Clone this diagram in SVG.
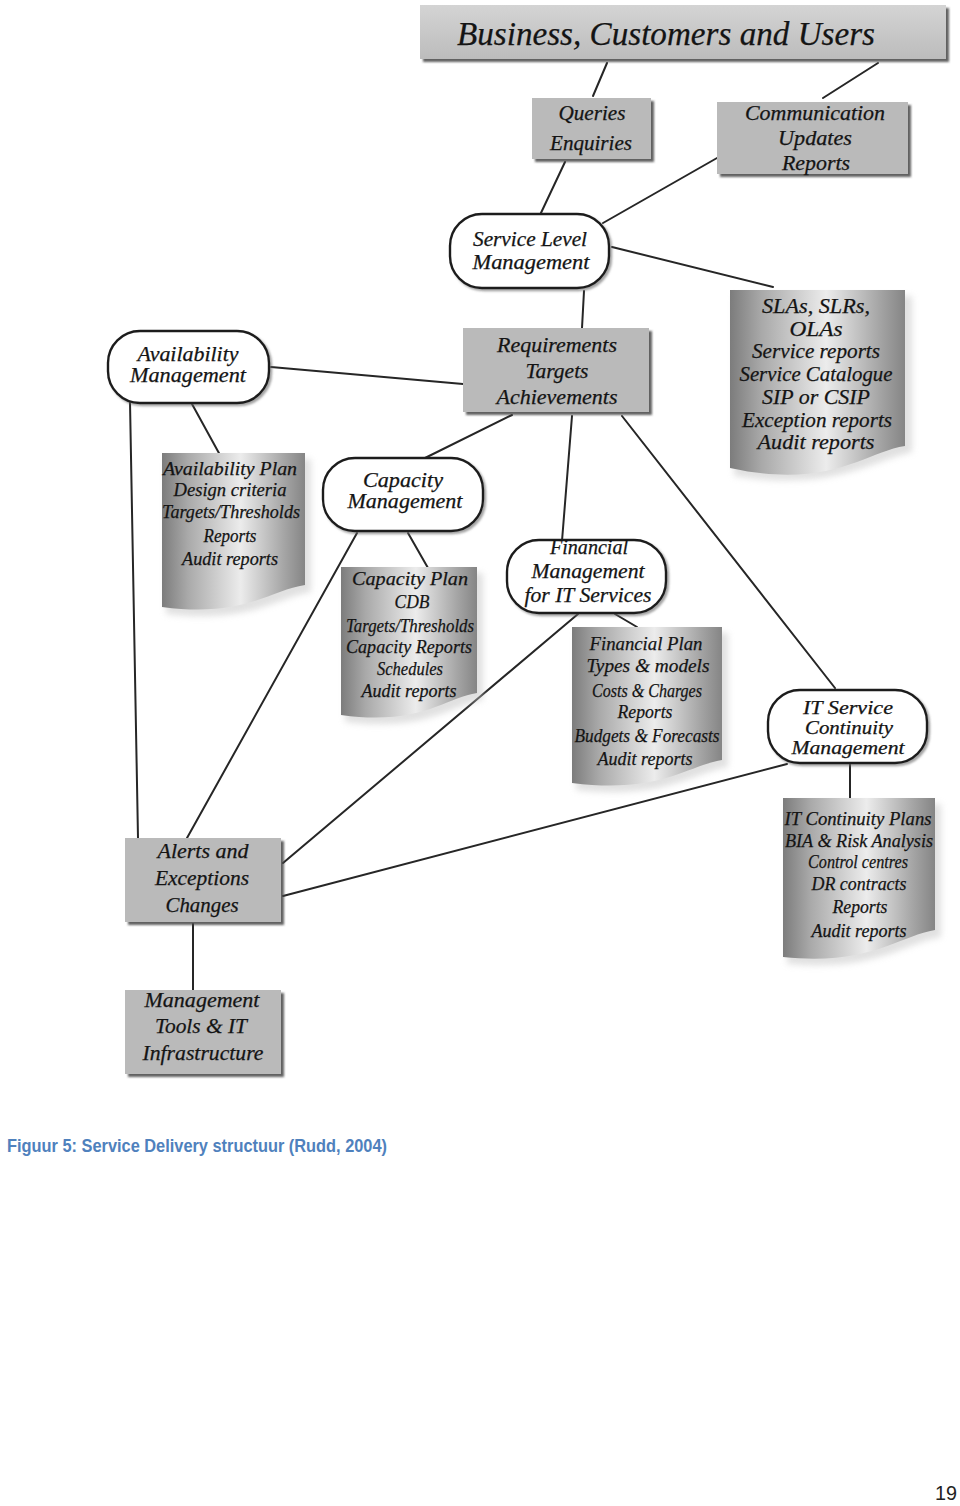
<svg xmlns="http://www.w3.org/2000/svg" width="960" height="1506" viewBox="0 0 960 1506">
<style>
.ln{stroke:#262626;stroke-width:2;fill:none;stroke-linecap:round}
.box{fill:#bababa}
.stad{fill:#fff;stroke:#1e1e1e;stroke-width:2.4}
.doc{fill:url(#docg)}
.docsh{fill:#c8c8c8;opacity:.55}
.t{font-family:"Liberation Serif","Times New Roman",serif;font-style:italic;fill:#141414;text-anchor:middle;stroke:#141414;stroke-width:0.25}
.t18{font-size:18px}
.t20{font-size:20px}
.t21{font-size:21px}
.t19{font-size:19px}
.t22{font-size:22px}
.cap{font-family:"Liberation Sans",Arial,sans-serif;font-weight:bold;font-size:18px;fill:#4F81BD}
.pg{font-family:"Liberation Sans",Arial,sans-serif;font-size:20px;fill:#222}
</style>
<defs>
<linearGradient id="docg" x1="0" y1="0" x2="1" y2="0">
<stop offset="0" stop-color="#7c7c7c"/>
<stop offset="0.18" stop-color="#a9a9a9"/>
<stop offset="0.55" stop-color="#ececec"/>
<stop offset="0.85" stop-color="#a6a6a6"/>
<stop offset="1" stop-color="#858585"/>
</linearGradient>
<linearGradient id="hdrg" x1="0" y1="0" x2="0" y2="1">
<stop offset="0" stop-color="#d4d4d4"/>
<stop offset="1" stop-color="#bcbcbc"/>
</linearGradient>
<filter id="sh" x="-10%" y="-10%" width="130%" height="140%">
<feDropShadow dx="3" dy="3" stdDeviation="1.3" flood-color="#444" flood-opacity="0.85"/>
</filter>
<filter id="sh2" x="-10%" y="-10%" width="130%" height="140%">
<feDropShadow dx="2" dy="2" stdDeviation="1.2" flood-color="#666" flood-opacity="0.6"/>
</filter>
<filter id="blur"><feGaussianBlur stdDeviation="3"/></filter>
</defs>

<g id="connectors">
<line class="ln" x1="607" y1="63" x2="593" y2="96"/>
<line class="ln" x1="878" y1="63" x2="823" y2="98"/>
<line class="ln" x1="565" y1="162" x2="540" y2="215"/>
<line class="ln" x1="717" y1="158" x2="603" y2="223"/>
<line class="ln" x1="612" y1="247" x2="773" y2="287"/>
<line class="ln" x1="584" y1="291" x2="582" y2="328"/>
<line class="ln" x1="271" y1="367" x2="463" y2="384"/>
<line class="ln" x1="512" y1="415" x2="423" y2="459"/>
<line class="ln" x1="572" y1="416" x2="562" y2="541"/>
<line class="ln" x1="622" y1="416" x2="835" y2="688"/>
<line class="ln" x1="192" y1="404" x2="220" y2="455"/>
<line class="ln" x1="130" y1="402" x2="138" y2="838"/>
<line class="ln" x1="408" y1="533" x2="428" y2="568"/>
<line class="ln" x1="357" y1="533" x2="187" y2="838"/>
<line class="ln" x1="615" y1="614" x2="637" y2="627"/>
<line class="ln" x1="578" y1="614" x2="283" y2="863"/>
<line class="ln" x1="787" y1="764" x2="283" y2="896"/>
<line class="ln" x1="850" y1="763" x2="850" y2="799"/>
<line class="ln" x1="193" y1="924" x2="193" y2="990"/>
</g>

<g id="header">
<rect x="420" y="5" width="526" height="54" fill="url(#hdrg)" filter="url(#sh)"/>
<text class="t" x="666" y="45" font-size="33" textLength="418" lengthAdjust="spacingAndGlyphs">Business, Customers and Users</text>
</g>

<g id="queries">
<rect class="box" x="532" y="98" width="119" height="61" filter="url(#sh)"/>
<text class="t t20" x="592" y="120" textLength="67" lengthAdjust="spacingAndGlyphs">Queries</text>
<text class="t t20" x="591" y="150" textLength="82" lengthAdjust="spacingAndGlyphs">Enquiries</text>
</g>

<g id="communication">
<rect class="box" x="717" y="102" width="191" height="72" filter="url(#sh)"/>
<text class="t t20" x="815" y="120" textLength="140" lengthAdjust="spacingAndGlyphs">Communication</text>
<text class="t t20" x="815" y="145" textLength="74" lengthAdjust="spacingAndGlyphs">Updates</text>
<text class="t t20" x="816" y="170" textLength="68" lengthAdjust="spacingAndGlyphs">Reports</text>
</g>

<g id="slm">
<rect class="stad" x="450" y="214" width="159" height="74" rx="32" ry="32" filter="url(#sh2)"/>
<text class="t t20" x="530" y="246" textLength="114" lengthAdjust="spacingAndGlyphs">Service Level</text>
<text class="t t20" x="531" y="269" textLength="117" lengthAdjust="spacingAndGlyphs">Management</text>
</g>

<g id="requirements">
<rect class="box" x="463" y="328" width="186" height="84" filter="url(#sh)"/>
<text class="t t21" x="557" y="352" textLength="120" lengthAdjust="spacingAndGlyphs">Requirements</text>
<text class="t t21" x="557" y="378" textLength="63" lengthAdjust="spacingAndGlyphs">Targets</text>
<text class="t t21" x="557" y="404" textLength="121" lengthAdjust="spacingAndGlyphs">Achievements</text>
</g>

<g id="slas-doc">
<path class="docsh" filter="url(#blur)" d="M734 296 H912 V452 C870 462 830 492 734 476 Z"/>
<path class="doc" d="M730 290 H905 V446 C865 452 830 490 730 468 Z"/>
<text class="t t22" x="816" y="313" textLength="108" lengthAdjust="spacingAndGlyphs">SLAs, SLRs,</text>
<text class="t t22" x="816" y="336" textLength="53" lengthAdjust="spacingAndGlyphs">OLAs</text>
<text class="t t22" x="816" y="358" textLength="128" lengthAdjust="spacingAndGlyphs">Service reports</text>
<text class="t t22" x="816" y="381" textLength="153" lengthAdjust="spacingAndGlyphs">Service Catalogue</text>
<text class="t t22" x="816" y="404" textLength="108" lengthAdjust="spacingAndGlyphs">SIP or CSIP</text>
<text class="t t22" x="817" y="427" textLength="150" lengthAdjust="spacingAndGlyphs">Exception reports</text>
<text class="t t22" x="816" y="449" textLength="117" lengthAdjust="spacingAndGlyphs">Audit reports</text>
</g>

<g id="availability">
<rect class="stad" x="108" y="331" width="161" height="72" rx="32" ry="32" filter="url(#sh2)"/>
<text class="t t20" x="188" y="361" textLength="101" lengthAdjust="spacingAndGlyphs">Availability</text>
<text class="t t20" x="188" y="382" textLength="116" lengthAdjust="spacingAndGlyphs">Management</text>
</g>

<g id="availability-doc">
<path class="docsh" filter="url(#blur)" d="M166 459 H311 V592 C276 598 250 624 166 614 Z"/>
<path class="doc" d="M162 453 H305 V585 C270 590 245 618 162 607 Z"/>
<text class="t t19" x="230" y="475" textLength="134" lengthAdjust="spacingAndGlyphs">Availability Plan</text>
<text class="t t19" x="230" y="496" textLength="113" lengthAdjust="spacingAndGlyphs">Design criteria</text>
<text class="t t19" x="231" y="518" textLength="138" lengthAdjust="spacingAndGlyphs">Targets/Thresholds</text>
<text class="t t19" x="230" y="542" textLength="53" lengthAdjust="spacingAndGlyphs">Reports</text>
<text class="t t19" x="230" y="565" textLength="96" lengthAdjust="spacingAndGlyphs">Audit reports</text>
</g>

<g id="capacity">
<rect class="stad" x="323" y="458" width="160" height="73" rx="32" ry="32" filter="url(#sh2)"/>
<text class="t t20" x="403" y="487" textLength="80" lengthAdjust="spacingAndGlyphs">Capacity</text>
<text class="t t20" x="405" y="508" textLength="115" lengthAdjust="spacingAndGlyphs">Management</text>
</g>

<g id="capacity-doc">
<path class="docsh" filter="url(#blur)" d="M345 573 H483 V700 C450 706 425 732 345 722 Z"/>
<path class="doc" d="M341 567 H477 V693 C445 698 420 726 341 715 Z"/>
<text class="t t19" x="410" y="585" textLength="116" lengthAdjust="spacingAndGlyphs">Capacity Plan</text>
<text class="t t19" x="412" y="608" textLength="35" lengthAdjust="spacingAndGlyphs">CDB</text>
<text class="t t19" x="410" y="632" textLength="128" lengthAdjust="spacingAndGlyphs">Targets/Thresholds</text>
<text class="t t19" x="409" y="653" textLength="126" lengthAdjust="spacingAndGlyphs">Capacity Reports</text>
<text class="t t19" x="410" y="675" textLength="66" lengthAdjust="spacingAndGlyphs">Schedules</text>
<text class="t t19" x="409" y="697" textLength="95" lengthAdjust="spacingAndGlyphs">Audit reports</text>
</g>

<g id="financial">
<rect class="stad" x="507" y="540" width="159" height="73" rx="32" ry="32" filter="url(#sh2)"/>
<text class="t t20" x="589" y="554" textLength="78" lengthAdjust="spacingAndGlyphs">Financial</text>
<text class="t t20" x="588" y="578" textLength="113" lengthAdjust="spacingAndGlyphs">Management</text>
<text class="t t20" x="588" y="602" textLength="127" lengthAdjust="spacingAndGlyphs">for IT Services</text>
</g>

<g id="financial-doc">
<path class="docsh" filter="url(#blur)" d="M576 633 H728 V767 C692 773 665 800 576 790 Z"/>
<path class="doc" d="M572 627 H722 V760 C686 766 660 794 572 783 Z"/>
<text class="t t19" x="646" y="650" textLength="113" lengthAdjust="spacingAndGlyphs">Financial Plan</text>
<text class="t t19" x="648" y="672" textLength="123" lengthAdjust="spacingAndGlyphs">Types &amp; models</text>
<text class="t t19" x="647" y="697" textLength="110" lengthAdjust="spacingAndGlyphs">Costs &amp; Charges</text>
<text class="t t19" x="645" y="718" textLength="55" lengthAdjust="spacingAndGlyphs">Reports</text>
<text class="t t19" x="647" y="742" textLength="145" lengthAdjust="spacingAndGlyphs">Budgets &amp; Forecasts</text>
<text class="t t19" x="645" y="765" textLength="95" lengthAdjust="spacingAndGlyphs">Audit reports</text>
</g>

<g id="itscm">
<rect class="stad" x="768" y="690" width="159" height="73" rx="32" ry="32" filter="url(#sh2)"/>
<text class="t t18" x="848" y="714" textLength="90" lengthAdjust="spacingAndGlyphs">IT Service</text>
<text class="t t18" x="849" y="734" textLength="88" lengthAdjust="spacingAndGlyphs">Continuity</text>
<text class="t t18" x="848" y="754" textLength="113" lengthAdjust="spacingAndGlyphs">Management</text>
</g>

<g id="itscm-doc">
<path class="docsh" filter="url(#blur)" d="M787 804 H941 V937 C905 943 875 972 787 964 Z"/>
<path class="doc" d="M783 798 H935 V930 C899 936 870 966 783 957 Z"/>
<text class="t t19" x="858" y="825" textLength="147" lengthAdjust="spacingAndGlyphs">IT Continuity Plans</text>
<text class="t t19" x="859" y="847" textLength="148" lengthAdjust="spacingAndGlyphs">BIA &amp; Risk Analysis</text>
<text class="t t19" x="858" y="868" textLength="100" lengthAdjust="spacingAndGlyphs">Control centres</text>
<text class="t t19" x="859" y="890" textLength="95" lengthAdjust="spacingAndGlyphs">DR contracts</text>
<text class="t t19" x="860" y="913" textLength="55" lengthAdjust="spacingAndGlyphs">Reports</text>
<text class="t t19" x="859" y="937" textLength="95" lengthAdjust="spacingAndGlyphs">Audit reports</text>
</g>

<g id="alerts">
<rect class="box" x="125" y="838" width="156" height="84" filter="url(#sh)"/>
<text class="t t21" x="203" y="858" textLength="91" lengthAdjust="spacingAndGlyphs">Alerts and</text>
<text class="t t21" x="202" y="885" textLength="94" lengthAdjust="spacingAndGlyphs">Exceptions</text>
<text class="t t21" x="202" y="912" textLength="73" lengthAdjust="spacingAndGlyphs">Changes</text>
</g>

<g id="mgmt-tools">
<rect class="box" x="125" y="990" width="156" height="84" filter="url(#sh)"/>
<text class="t t21" x="202" y="1007" textLength="115" lengthAdjust="spacingAndGlyphs">Management</text>
<text class="t t21" x="201" y="1033" textLength="92" lengthAdjust="spacingAndGlyphs">Tools &amp; IT</text>
<text class="t t21" x="203" y="1060" textLength="121" lengthAdjust="spacingAndGlyphs">Infrastructure</text>
</g>

<g id="caption">
<text class="cap" x="7" y="1152" textLength="380" lengthAdjust="spacingAndGlyphs">Figuur 5: Service Delivery structuur (Rudd, 2004)</text>
</g>
<g id="page-number">
<text class="pg" x="935" y="1500" textLength="22" lengthAdjust="spacingAndGlyphs">19</text>
</g>
</svg>
